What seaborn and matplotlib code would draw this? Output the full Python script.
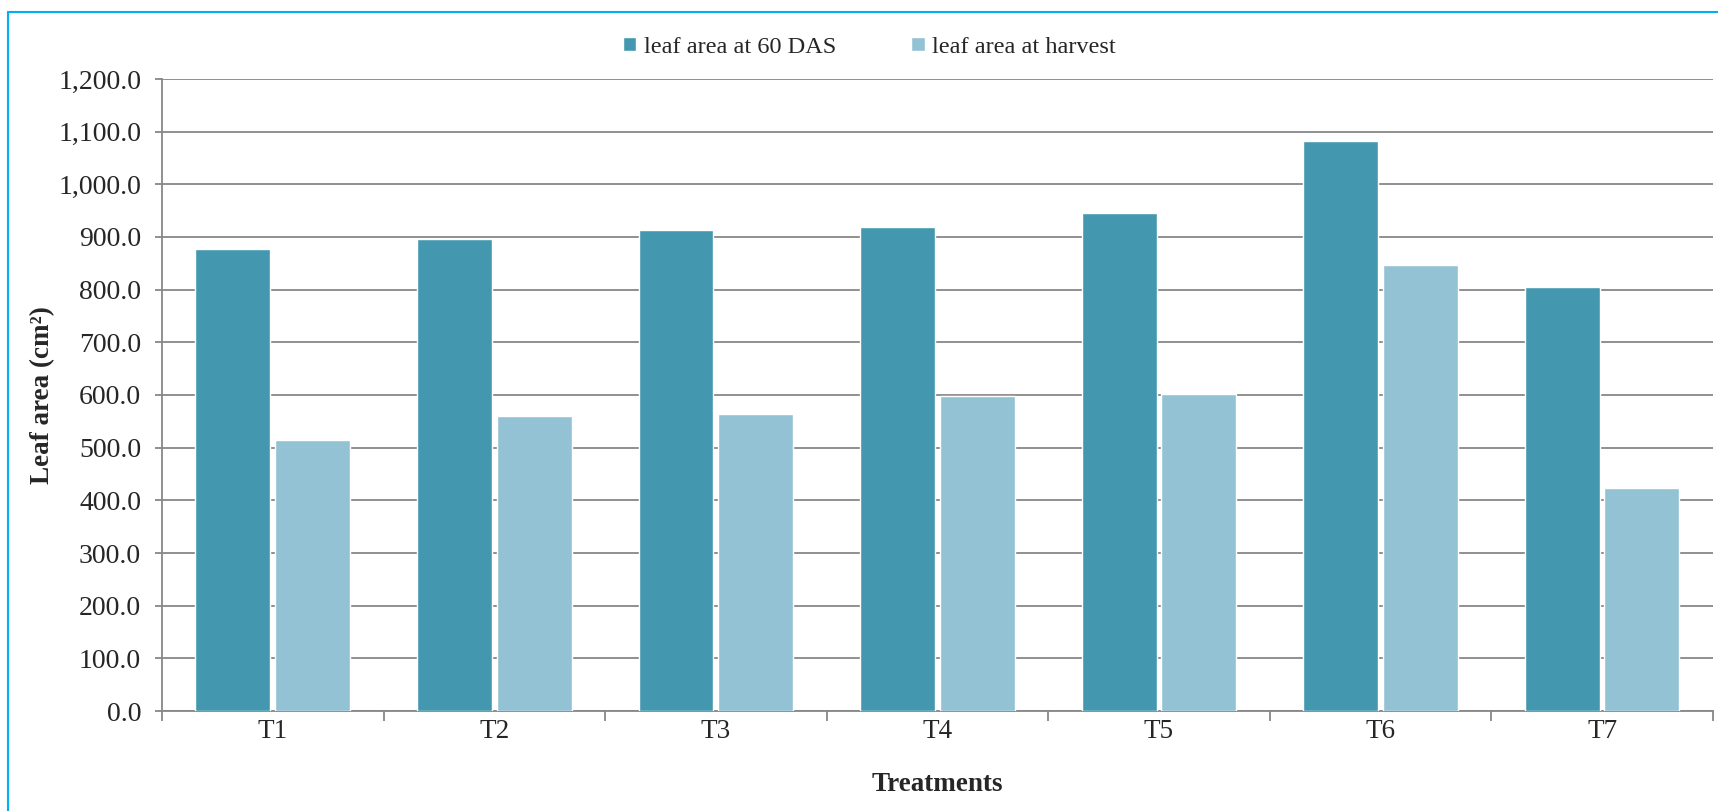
import pandas as pd
import matplotlib.pyplot as plt
import seaborn as sns
from matplotlib.lines import Line2D
from matplotlib.ticker import FuncFormatter, MultipleLocator, FixedLocator

treatments = ['T1', 'T2', 'T3', 'T4', 'T5', 'T6', 'T7']
area_60das = [877.5, 896.0, 913.0, 919.5, 946.0, 1081.5, 805.0]
area_harvest = [514.0, 559.5, 563.5, 599.0, 601.0, 846.0, 423.5]
series_names = ['leaf area at 60 DAS', 'leaf area at harvest']
colors = ['#4398B0', '#93C2D4']

df = pd.DataFrame({
    'treatment': treatments * 2,
    'value': area_60das + area_harvest,
    'series': [series_names[0]] * 7 + [series_names[1]] * 7,
})

sns.set_style('white')
plt.rcParams['font.family'] = ['Liberation Serif', 'DejaVu Serif']

fig = plt.figure(figsize=(17.18, 8.11), dpi=100)
ax = fig.add_axes([0.0943, 0.1233, 0.9027, 0.7793])

sns.barplot(data=df, x='treatment', y='value', hue='series', palette=colors,
            saturation=1, width=0.72, gap=0.06, edgecolor='white',
            linewidth=1.0, ax=ax, zorder=3)

ax.set_ylim(0, 1200)
ax.set_xlim(-0.5, 6.5)
ax.yaxis.set_major_locator(MultipleLocator(100))
ax.yaxis.set_major_formatter(FuncFormatter(lambda v, p: f'{v:,.1f}'))
ax.grid(axis='y', color='#878787', linewidth=1.3, zorder=0)
ax.set_axisbelow(True)

for s in ['top', 'right']:
    ax.spines[s].set_visible(False)
for s in ['left', 'bottom']:
    ax.spines[s].set_color('#878787')
    ax.spines[s].set_linewidth(1.3)

ax.tick_params(axis='y', which='major', direction='out', length=5, width=1.3,
               color='#878787', pad=10, labelsize=20, left=True)
ax.tick_params(axis='x', which='major', length=0, pad=5.5, labelsize=19.5)
ax.xaxis.set_minor_locator(FixedLocator([i - 0.5 for i in range(8)]))
ax.tick_params(axis='x', which='minor', direction='out', length=7, width=1.3,
               color='#878787', bottom=True)

ax.set_xlabel('Treatments', fontsize=19.5, fontweight='bold')
ax.set_ylabel('Leaf area (cm²)', fontsize=19.5, fontweight='bold')
ax.xaxis.set_label_coords(0.5, -0.097)
ax.yaxis.set_label_coords(-0.069, 0.5)

handles, labels = ax.get_legend_handles_labels()
ax.legend(handles, labels, loc='center', bbox_to_anchor=(0.506, 0.942),
          bbox_transform=fig.transFigure, ncol=2, frameon=False, fontsize=17.5,
          handlelength=0.55, handleheight=0.55, handletextpad=0.3,
          columnspacing=3.1)

# cyan frame, only the top and left edges fall inside the picture
fig.add_artist(Line2D([8 / 1718, 1], [1 - 12 / 811] * 2, color='#00B0F0', lw=1.5))
fig.add_artist(Line2D([8 / 1718] * 2, [0, 1 - 12 / 811], color='#00B0F0', lw=1.5))

fig.savefig('out.png', dpi=100)
